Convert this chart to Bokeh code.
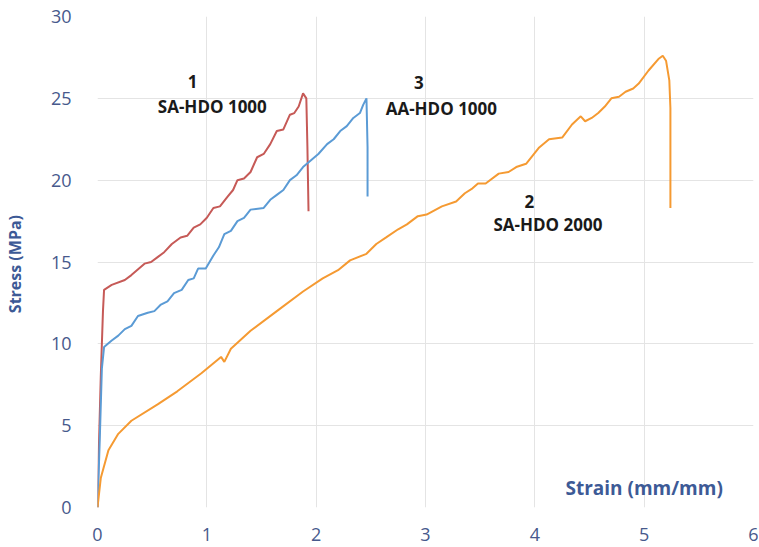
from bokeh.plotting import figure
from bokeh.models import Label, FixedTicker, Range1d
from bokeh.embed import file_html
from bokeh.resources import INLINE

# Series 1: SA-HDO 1000 (red)
s1_x = [0.0, 0.01, 0.03, 0.05, 0.06, 0.13, 0.25, 0.31, 0.43, 0.49, 0.55, 0.61, 0.68, 0.76, 0.82, 0.88,
        0.94, 1.0, 1.06, 1.12, 1.19, 1.24, 1.28, 1.34, 1.40, 1.46, 1.52, 1.58, 1.64, 1.70, 1.76,
        1.80, 1.84, 1.88, 1.91, 1.92, 1.93]
s1_y = [0.0, 3.0, 8.0, 12.0, 13.3, 13.6, 13.9, 14.2, 14.9, 15.0, 15.3, 15.6, 16.1, 16.5, 16.6, 17.1,
        17.3, 17.7, 18.3, 18.4, 19.0, 19.4, 20.0, 20.1, 20.5, 21.4, 21.6, 22.2, 23.0, 23.1, 24.0,
        24.1, 24.5, 25.3, 25.0, 22.0, 18.1]

# Series 3: AA-HDO 1000 (blue)
s3_x = [0.0, 0.02, 0.04, 0.06, 0.13, 0.19, 0.25, 0.31, 0.37, 0.46, 0.52, 0.58, 0.64, 0.70, 0.77,
        0.83, 0.88, 0.92, 0.99, 1.06, 1.11, 1.16, 1.22, 1.28, 1.34, 1.40, 1.52, 1.58, 1.64, 1.70,
        1.76, 1.82, 1.88, 1.95, 2.02, 2.10, 2.16, 2.22, 2.28, 2.34, 2.40, 2.43, 2.46, 2.47, 2.47]
s3_y = [0.0, 4.0, 8.5, 9.8, 10.2, 10.5, 10.9, 11.1, 11.7, 11.9, 12.0, 12.4, 12.6, 13.1, 13.3,
        13.9, 14.0, 14.6, 14.6, 15.4, 15.9, 16.7, 16.9, 17.5, 17.7, 18.2, 18.3, 18.8, 19.1, 19.4,
        20.0, 20.3, 20.8, 21.2, 21.6, 22.2, 22.5, 23.0, 23.3, 23.8, 24.1, 24.6, 25.0, 22.0, 19.0]

# Series 2: SA-HDO 2000 (orange)
s2_x = [0.0, 0.03, 0.10, 0.19, 0.31, 0.55, 0.73, 0.95, 1.13, 1.16, 1.22, 1.40, 1.64, 1.88, 2.06,
        2.20, 2.31, 2.46, 2.55, 2.64, 2.75, 2.83, 2.93, 3.01, 3.15, 3.28, 3.36, 3.43, 3.48, 3.55,
        3.67, 3.76, 3.83, 3.92, 4.04, 4.13, 4.25, 4.34, 4.42, 4.46, 4.52, 4.58, 4.64, 4.70, 4.77,
        4.83, 4.90, 4.95, 5.04, 5.13, 5.17, 5.20, 5.23, 5.24, 5.24]
s2_y = [0.0, 1.8, 3.5, 4.5, 5.3, 6.3, 7.1, 8.2, 9.2, 8.9, 9.7, 10.8, 12.0, 13.2, 14.0,
        14.5, 15.1, 15.5, 16.1, 16.5, 17.0, 17.3, 17.8, 17.9, 18.4, 18.7, 19.2, 19.5, 19.8, 19.8,
        20.4, 20.5, 20.8, 21.0, 22.0, 22.5, 22.6, 23.4, 23.9, 23.6, 23.8, 24.1, 24.5, 25.0, 25.1,
        25.4, 25.6, 25.9, 26.7, 27.4, 27.6, 27.3, 26.1, 24.4, 18.3]

x_ticks = [0, 1, 2, 3, 4, 5, 6]
y_ticks = [0, 5, 10, 15, 20, 25, 30]

BLUE_TXT = "#47598c"

p = figure(width=758, height=546, output_backend="svg", toolbar_location=None,
           x_range=Range1d(0, 6), y_range=Range1d(0, 30),
           min_border_left=95, min_border_right=5, min_border_top=16, min_border_bottom=39)
p.outline_line_color = None
p.background_fill_color = "white"

p.line(s1_x, s1_y, line_color="#c65a57", line_width=2)
p.line(s3_x, s3_y, line_color="#5b9bd5", line_width=2)
p.line(s2_x, s2_y, line_color="#f59a32", line_width=2)

for ax in (p.xaxis, p.yaxis):
    ax.axis_line_color = None
    ax.major_tick_line_color = None
    ax.minor_tick_line_color = None
    ax.major_label_text_color = BLUE_TXT
    ax.major_label_text_font = "Open Sans"
    ax.major_label_text_font_size = "18px"
p.xaxis.ticker = FixedTicker(ticks=x_ticks)
p.yaxis.ticker = FixedTicker(ticks=y_ticks)
p.xaxis.major_label_standoff = 14
p.yaxis.major_label_standoff = 20

p.yaxis.axis_label = "Stress  (MPa)"
p.yaxis.axis_label_text_font = "Open Sans"
p.yaxis.axis_label_text_font_style = "bold"
p.yaxis.axis_label_text_font_size = "16px"
p.yaxis.axis_label_text_color = "#3d5a96"
p.yaxis.axis_label_standoff = 22

p.grid.grid_line_color = "#e4e4e4"
p.grid.grid_line_width = 1

def lab(x, y, t, color="#1a1a1a", size="17px"):
    p.add_layout(Label(x=x, y=y, text=t, text_align="center", text_baseline="middle",
                       text_font="Open Sans", text_font_style="bold",
                       text_font_size=size, text_color=color))

lab(0.87, 26.0, "1")
lab(1.05, 24.5, "SA-HDO 1000")
lab(2.94, 25.95, "3")
lab(3.145, 24.4, "AA-HDO 1000")
lab(3.95, 18.7, "2")
lab(4.14, 17.3, "SA-HDO  2000")
lab(5.0, 1.22, "Strain (mm/mm)", color="#3d5a96", size="19px")

open("out.html", "w").write(file_html(p, INLINE))
